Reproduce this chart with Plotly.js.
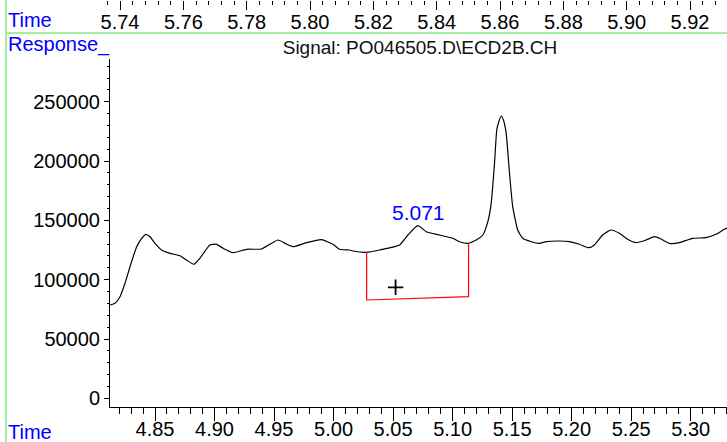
<!DOCTYPE html>
<html>
<head>
<meta charset="utf-8">
<script src="https://cdn.plot.ly/plotly-3.0.1.min.js"></script>
<style>html,body{margin:0;padding:0;background:#fff;}#chart{width:727px;height:442px;}</style>
</head>
<body>
<div id="chart"></div>
<script>
// Chromatogram trace (time in min, response)
const time = [4.8122,4.8164,4.8206,4.8248,4.8290,4.8346,4.8388,4.8424,4.8458,4.8500,4.8556,4.8625,4.8709,4.8765,4.8827,4.8877,4.8961,4.9017,4.9073,4.9156,4.9269,4.9395,4.9464,4.9534,4.9604,4.9660,4.9772,4.9898,4.9995,5.0051,5.0135,5.0163,5.0275,5.0387,5.0555,5.0625,5.0708,5.0779,5.0890,5.1002,5.1058,5.1128,5.1198,5.1254,5.1296,5.1324,5.1352,5.1371,5.1388,5.1408,5.1427,5.1450,5.1478,5.1505,5.1547,5.1589,5.1660,5.1729,5.1786,5.1897,5.1981,5.2065,5.2143,5.2191,5.2260,5.2331,5.2401,5.2470,5.2541,5.2625,5.2694,5.2750,5.2820,5.2904,5.3015,5.3128,5.3212,5.3282,5.3305];
const response = [78670,80100,85670,96970,110970,127830,134910,138280,136260,130700,125050,122260,120240,116610,112990,118050,129260,129850,126480,122770,125640,125890,129850,133480,130110,127830,131200,133730,129850,125640,125050,124200,123110,125050,129260,137690,145540,140480,137690,134910,132040,130700,133480,137690,148910,164420,198150,226230,233230,238030,234670,223450,189720,161560,141910,134910,132040,130700,132040,132640,132040,129850,126990,129260,137690,141910,139130,134070,131200,133480,136260,134320,130700,131200,134910,135420,138280,142500,143500];
// Integration baseline drawn in red
const baselineTime = [5.0278, 5.0278, 5.1134, 5.1134];
const baselineResp = [123400, 82900, 85670, 131000];
// Cursor cross
const crossTime = [5.0521];
const crossResp = [93600];
// Peak label
const peakLabel = "5.071";
const peakTime = 5.071;
const peakLabelResp = 156500;
// Axis ranges / ticks
const mainXRange = [4.8122, 5.3305];
const mainYRange = [-7336, 286100];
const topXRange = [5.73368, 5.93168];
const titleText = "Signal: PO046505.D\\ECD2B.CH";

const W = 727, H = 442, B = 35;
const plotH = H - B;
const py = p => (plotH - p) / plotH; // pixel y -> paper y
const px = p => p / W;
const FONT = "Arial, 'Liberation Sans', sans-serif";

const traces = [
  {x: time, y: response, type: 'scatter', mode: 'lines',
   line: {color: '#000', width: 1.2, shape: 'spline', smoothing: 0.5},
   xaxis: 'x', yaxis: 'y', hoverinfo: 'skip'},
  {x: baselineTime, y: baselineResp, type: 'scatter', mode: 'lines',
   line: {color: '#ff0000', width: 1.2}, xaxis: 'x', yaxis: 'y'},
  {x: crossTime, y: crossResp, type: 'scatter', mode: 'markers',
   marker: {symbol: 'cross-thin', size: 11, line: {color: '#000', width: 1.8}},
   xaxis: 'x', yaxis: 'y'},
  {x: [], y: [], type: 'scatter', xaxis: 'x2', yaxis: 'y2'}
];

const layout = {
  width: W, height: H,
  margin: {l: 0, r: 0, t: 0, b: B, pad: 0},
  paper_bgcolor: '#fff', plot_bgcolor: 'rgba(0,0,0,0)',
  showlegend: false,
  font: {family: FONT, color: '#000', size: 20},
  title: {text: titleText, x: 420 / W, xanchor: 'center', y: (H - 47) / H, yanchor: 'middle',
          xref: 'container', yref: 'container', font: {family: FONT, size: 19, color: '#111'}},
  xaxis: {domain: [110 / W, 1], range: mainXRange, anchor: 'y',
          tick0: 4.85, dtick: 0.05, tickformat: '.2f',
          ticks: 'outside', ticklen: 13, tickwidth: 1, tickcolor: '#000', ticklabelstandoff: -9,
          showline: true, linecolor: '#000', linewidth: 1,
          showgrid: false, zeroline: false,
          tickfont: {family: FONT, size: 20, color: '#000'},
          minor: {dtick: 0.01, tick0: 4.85, ticks: 'outside', ticklen: 6, tickwidth: 1, tickcolor: '#000', showgrid: false}},
  yaxis: {domain: [0, (plotH - 59) / plotH], range: mainYRange, anchor: 'x',
          tick0: 0, dtick: 50000, tickformat: 'd',
          ticks: 'outside', ticklen: 5, tickwidth: 1, tickcolor: '#000',
          showline: true, linecolor: '#000', linewidth: 1,
          showgrid: false, zeroline: false,
          tickfont: {family: FONT, size: 20, color: '#000'},
          minor: {dtick: 10000, tick0: 0, ticks: 'outside', ticklen: 2, tickwidth: 1, tickcolor: '#000', showgrid: false}},
  xaxis2: {domain: [100 / W, 1], range: topXRange, anchor: 'y2', side: 'bottom',
           tick0: 5.74, dtick: 0.02, tickformat: '.2f',
           ticks: 'outside', ticklen: 9, tickwidth: 1, tickcolor: '#000', ticklabelstandoff: -5,
           showline: false, showgrid: false, zeroline: false,
           tickfont: {family: FONT, size: 20, color: '#000'},
           minor: {dtick: 0.004, tick0: 5.74, ticks: 'outside', ticklen: 4, tickwidth: 1, tickcolor: '#000', showgrid: false}},
  yaxis2: {domain: [0.999, 1], range: [0, 1], visible: false, anchor: 'x2'},
  shapes: [
    {type: 'line', xref: 'paper', yref: 'paper', x0: px(6), x1: px(6), y0: py(442), y1: py(0),
     line: {color: '#9ef09e', width: 2}},
    {type: 'line', xref: 'paper', yref: 'paper', x0: px(6), x1: 1, y0: py(33), y1: py(33),
     line: {color: '#9ef09e', width: 2}}
  ],
  annotations: [
    {text: 'Time', xref: 'paper', yref: 'paper', x: px(6), y: py(20), xanchor: 'left', yanchor: 'middle',
     showarrow: false, font: {family: FONT, size: 20, color: '#0000ff'}},
    {text: 'Response_', xref: 'paper', yref: 'paper', x: px(6), y: py(45), xanchor: 'left', yanchor: 'middle',
     showarrow: false, font: {family: FONT, size: 20, color: '#0000ff'}},
    {text: 'Time', xref: 'paper', yref: 'paper', x: px(6), y: py(432), xanchor: 'left', yanchor: 'middle',
     showarrow: false, font: {family: FONT, size: 20, color: '#0000ff'}},
    {text: peakLabel, xref: 'x', yref: 'y', x: peakTime, y: peakLabelResp, xanchor: 'center', yanchor: 'middle',
     showarrow: false, font: {family: FONT, size: 21, color: '#0000ff'}}
  ]
};

Plotly.newPlot('chart', traces, layout, {staticPlot: true, displayModeBar: false});
</script>
</body>
</html>
